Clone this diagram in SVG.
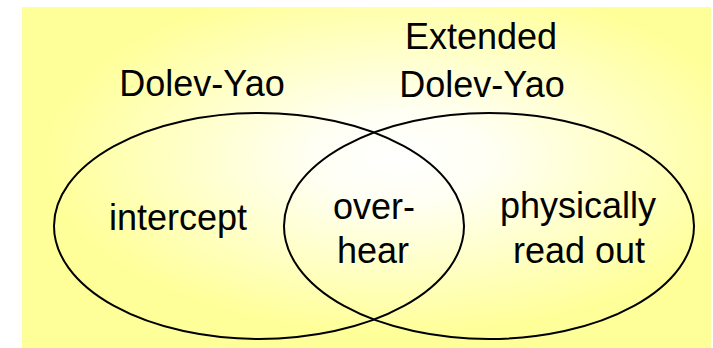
<svg xmlns="http://www.w3.org/2000/svg" width="713" height="348" viewBox="0 0 713 348">
  <style>
    .set { fill: none; stroke: #000; stroke-width: 2; }
    .lbl { font-family: "Liberation Sans", Arial, Helvetica, sans-serif; font-size: 36px; fill: #000; text-anchor: middle; }
  </style>
  <defs>
    <radialGradient id="bg" cx="0.55" cy="0.44" r="0.52">
      <stop offset="0" stop-color="#FFFFFF"/>
      <stop offset="0.25" stop-color="#FFFFF4"/>
      <stop offset="1" stop-color="#FFFF99"/>
    </radialGradient>
  </defs>
  <!-- shaded backdrop -->
  <rect x="22" y="7" width="689" height="341" fill="url(#bg)"/>
  <g id="dolev-yao">
    <ellipse class="set" cx="259" cy="226" rx="205" ry="113"/>
    <text class="lbl" x="202" y="96">Dolev-Yao</text>
    <text class="lbl" x="178" y="230">intercept</text>
  </g>
  <g id="extended-dolev-yao">
    <ellipse class="set" cx="489" cy="226" rx="205" ry="113"/>
    <text class="lbl" x="481" y="49">Extended</text>
    <text class="lbl" x="482" y="97">Dolev-Yao</text>
    <text class="lbl" x="578" y="218">physically</text>
    <text class="lbl" x="579" y="263">read out</text>
  </g>
  <!-- overlap region of the two sets -->
  <g id="overhear">
    <text class="lbl" x="374" y="219">over-</text>
    <text class="lbl" x="373" y="263">hear</text>
  </g>
  <g id="connectors"/>
</svg>
